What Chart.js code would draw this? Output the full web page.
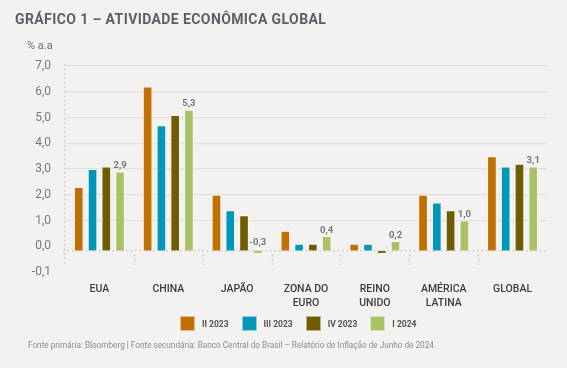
<!DOCTYPE html>
<html>
<head>
<meta charset="utf-8">
<script src="https://cdn.jsdelivr.net/npm/chart.js@4.4.1/dist/chart.umd.min.js"></script>
<style>
    body { margin: 0; background: #f3f2f0; width: 567px; height: 368px; overflow: hidden; position: relative; font-family: Roboto, sans-serif; }
    #grafico { position: absolute; left: 0; top: 0; }
    #titulo { position: absolute; left: 15px; top: 11px; font-size: 14px; font-weight: bold; color: #5b6068; letter-spacing: 0.4px; }
    #unidade { position: absolute; left: 27px; top: 39px; font-size: 11px; color: #6a6d72; }
    #legenda { position: absolute; left: 180px; top: 316px; display: flex; }
    #legenda .item { display: flex; align-items: center; margin-right: 13px; font-size: 8.5px; font-weight: bold; color: #505358; }
    #legenda .caixa { width: 15px; height: 15px; margin-right: 7px; box-sizing: border-box; border: 1px solid rgba(255,255,255,0.55); }
    #fonte { position: absolute; left: 28px; top: 340px; font-size: 8.2px; color: #8a8c90; }
</style>
</head>
<body>
<canvas id="grafico" width="567" height="368"></canvas>
<div id="titulo">GRÁFICO 1 – ATIVIDADE ECONÔMICA GLOBAL</div>
<div id="unidade">% a.a</div>
<div id="legenda"></div>
<div id="fonte">Fonte primária: Bloomberg | Fonte secundária: Banco Central do Brasil – Relatório de Inflação de Junho de 2024.</div>
<script>
    // Categorias e séries (% a.a)
    const regioes = ['EUA', 'CHINA', 'JAPÃO', ['ZONA DO', 'EURO'], ['REINO', 'UNIDO'], ['AMÉRICA', 'LATINA'], 'GLOBAL'];
    const trimestres = ['II 2023', 'III 2023', 'IV 2023', 'I 2024'];
    const ii2023 = [2.3, 6.2, 2.0, 0.6, 0.1, 2.0, 3.5];
    const iii2023 = [3.0, 4.7, 1.4, 0.1, 0.1, 1.7, 3.1];
    const iv2023 = [3.1, 5.1, 1.2, 0.1, -0.3, 1.4, 3.2];
    const i2024 = [2.9, 5.3, -0.3, 0.4, 0.2, 1.0, 3.1];
    const cores = ['#c07000', '#0097b8', '#705c00', '#a9c265'];

    // Marcas do eixo y (o rótulo -0,1 está assim no original)
    const yTickValues = [-1, 0, 1, 2, 3, 4, 5, 6, 7];
    const yTickLabels = ['-0,1', '0,0', '1,0', '2,0', '3,0', '4,0', '5,0', '6,0', '7,0'];

    const series = [ii2023, iii2023, iv2023, i2024];

    // As barras partem da linha pontilhada, um pouco abaixo da grade do zero
    const baseBarras = -0.17;

    // Linhas pontilhadas e rótulos de valor
    const extras = {
        id: 'extras',
        afterDatasetsDraw(chart) {
            const ctx = chart.ctx;
            const x = chart.scales.x;
            const y = chart.scales.y;
            const area = chart.chartArea;
            const zero = y.getPixelForValue(0);
            const linha = y.getPixelForValue(baseBarras);

            ctx.save();
            ctx.strokeStyle = '#c9c8c6';
            ctx.lineWidth = 1.5;
            ctx.setLineDash([1.5, 3]);

            // linha do zero
            ctx.beginPath();
            ctx.moveTo(area.left - 2, linha);
            ctx.lineTo(area.right, linha);
            ctx.stroke();

            // eixo vertical
            ctx.beginPath();
            ctx.moveTo(area.left, area.top - 2);
            ctx.lineTo(area.left, linha + 14);
            ctx.stroke();

            // separadores entre categorias
            for (let i = 1; i < regioes.length; i++) {
                const px = Math.round((x.getPixelForValue(i - 1) + x.getPixelForValue(i)) / 2) + 0.5;
                ctx.beginPath();
                ctx.moveTo(px, linha + 4);
                ctx.lineTo(px, linha + 14);
                ctx.stroke();
            }
            ctx.setLineDash([]);

            // valores do último trimestre
            const meta = chart.getDatasetMeta(3);
            ctx.font = 'bold 9.5px Roboto, sans-serif';
            ctx.fillStyle = '#74777c';
            ctx.textAlign = 'center';
            ctx.textBaseline = 'bottom';
            meta.data.forEach((bar, i) => {
                const v = i2024[i];
                const topo = v >= 0 ? bar.y : zero + 2;
                ctx.fillText(v.toFixed(1).replace('.', ','), bar.x, topo - 1);
            });
            ctx.restore();
        }
    };

    const ctx = document.getElementById('grafico').getContext('2d');

    const grafico = new Chart(ctx, {
        type: 'bar',
        data: {
            labels: regioes,
            datasets: series.map((dados, i) => ({
                label: trimestres[i],
                data: dados,
                base: baseBarras,
                backgroundColor: cores[i],
                borderColor: 'rgba(255,255,255,0.55)',
                borderWidth: 1,
                categoryPercentage: 0.8,
                barPercentage: 0.7
            }))
        },
        options: {
            responsive: false,
            animation: false,
            layout: { padding: { top: 66, right: 20, left: 0, bottom: 56 } },
            plugins: {
                tooltip: { enabled: false },
                legend: { display: false }
            },
            scales: {
                x: {
                    grid: { display: false, drawTicks: false },
                    border: { display: false },
                    ticks: {
                        color: '#3c3d40',
                        padding: 11,
                        maxRotation: 0,
                        font: { family: 'Roboto, sans-serif', size: 10.5, weight: '500', lineHeight: 1.3 }
                    },
                    afterFit(scale) { scale.height = 40; }
                },
                y: {
                    min: -1,
                    max: 7,
                    afterBuildTicks(scale) {
                        scale.ticks = yTickValues.map(v => ({ value: v }));
                    },
                    grid: {
                        drawTicks: false,
                        lineWidth: 1.2,
                        color: c => (c.tick && c.tick.value > 0) ? '#e2e0dd' : 'rgba(0,0,0,0)'
                    },
                    border: { display: false },
                    ticks: {
                        color: '#76797e',
                        padding: 14,
                        font: { family: 'Roboto, sans-serif', size: 12 },
                        callback: v => yTickLabels[yTickValues.indexOf(v)]
                    },
                    afterFit(scale) { scale.width = 65; }
                }
            }
        },
        plugins: [extras]
    });

    // Legenda montada a partir das séries do gráfico
    const legenda = document.getElementById('legenda');
    grafico.data.datasets.forEach(ds => {
        const item = document.createElement('div');
        item.className = 'item';
        const caixa = document.createElement('span');
        caixa.className = 'caixa';
        caixa.style.background = ds.backgroundColor;
        item.appendChild(caixa);
        item.appendChild(document.createTextNode(ds.label));
        legenda.appendChild(item);
    });
</script>
</body>
</html>
